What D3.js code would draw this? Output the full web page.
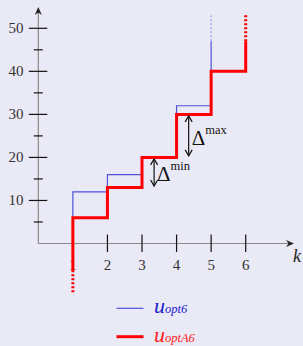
<!DOCTYPE html>
<html>
<head>
<meta charset="utf-8">
<script src="https://cdn.jsdelivr.net/npm/d3@7.9.0/dist/d3.min.js"></script>
<style>
  body { margin: 0; background: #eaeaf6; }
  svg { display: block; }
  text { font-family: "Liberation Serif", "Times New Roman", serif; }
</style>
</head>
<body>
<svg width="303" height="346"></svg>
<script>
// step values on [k, k+1)
const kSteps = [1, 2, 3, 4, 5];
const uOpt6 = [12, 16, 20, 32];       // blue, leaves to infinity at k = 5
const uOptA6 = [6, 13, 20, 30, 40];   // red, leaves to infinity at k = 6
const xTicks = [1, 2, 3, 4, 5, 6];
const yMajor = [10, 20, 30, 40, 50];
const yMinor = [5, 15, 25, 35, 45];
const lowEnd = [-6.2, -11.5];   // solid end, dotted end below axis
const highEnd = [47, 53.5];     // solid end, dotted end at top
const dMin = [13, 20, 3.35];    // from, to, at k
const dMax = [20, 30, 4.35];

const svg = d3.select('svg');
const x = d3.scaleLinear().domain([0, 6]).range([38.3, 245.7]);
const y = d3.scaleLinear().domain([0, 50]).range([243.5, 28.3]);

// axes
svg.append('line').attr('x1', x(0)).attr('x2', 292).attr('y1', y(0)).attr('y2', y(0))
  .attr('stroke', '#8a8a8a').attr('stroke-width', 1.2);
svg.append('line').attr('x1', x(0)).attr('x2', x(0)).attr('y1', y(0)).attr('y2', 9)
  .attr('stroke', '#8a8a8a').attr('stroke-width', 1.2);
const head = 'M0,0 L-3.5,8 L0,5.5 L3.5,8 Z';
svg.append('path').attr('d', head).attr('transform', `translate(${x(0)},7)`).attr('fill', '#222');
svg.append('path').attr('d', head).attr('transform', `translate(294,${y(0)}) rotate(90)`).attr('fill', '#222');

// y ticks
svg.selectAll('.ymaj').data(yMajor).join('line')
  .attr('x1', x(0) - 9.5).attr('x2', x(0) + 9).attr('y1', d => y(d)).attr('y2', d => y(d))
  .attr('stroke', '#111').attr('stroke-width', 1.2);
svg.selectAll('.ymin').data(yMinor).join('line')
  .attr('x1', x(0) - 4.5).attr('x2', x(0) + 4.5).attr('y1', d => y(d)).attr('y2', d => y(d))
  .attr('stroke', '#111').attr('stroke-width', 1.2);
svg.selectAll('.ylab').data(yMajor).join('text')
  .attr('x', 23.5).attr('y', d => y(d) + 5).attr('text-anchor', 'end')
  .attr('font-size', 15).attr('fill', '#333').text(d => d);

// x ticks
svg.selectAll('.xt').data(xTicks).join('line')
  .attr('x1', d => x(d)).attr('x2', d => x(d)).attr('y1', y(0) - 9).attr('y2', y(0) + 8.5)
  .attr('stroke', '#111').attr('stroke-width', 1.2);
svg.selectAll('.xlab').data(xTicks).join('text')
  .attr('x', d => x(d)).attr('y', 269.5).attr('text-anchor', 'middle')
  .attr('font-size', 15).attr('fill', '#333').text(d => d);
svg.append('text').attr('x', 293).attr('y', 262).attr('font-size', 18)
  .attr('font-style', 'italic').attr('fill', '#222').text('k');

// step paths
function stepPoints(vals) {
  const pts = [[kSteps[0], lowEnd[0]]];
  vals.forEach((v, i) => {
    pts.push([kSteps[i], v]);
    pts.push([kSteps[i] + 1, v]);
  });
  pts.push([kSteps[0] + vals.length, highEnd[0]]);
  return pts;
}
const line = d3.line().x(d => x(d[0])).y(d => y(d[1]));

function drawSeries(vals, color, width, dashColor) {
  const kEnd = kSteps[0] + vals.length;
  svg.append('line').attr('x1', x(kSteps[0])).attr('x2', x(kSteps[0]))
    .attr('y1', y(lowEnd[0])).attr('y2', y(lowEnd[1]))
    .attr('stroke', dashColor).attr('stroke-width', width).attr('stroke-dasharray', '2,2');
  svg.append('line').attr('x1', x(kEnd)).attr('x2', x(kEnd))
    .attr('y1', y(highEnd[0])).attr('y2', y(highEnd[1]))
    .attr('stroke', dashColor).attr('stroke-width', width).attr('stroke-dasharray', '2,2');
  svg.append('path').attr('d', line(stepPoints(vals)))
    .attr('fill', 'none').attr('stroke', color).attr('stroke-width', width)
    .attr('stroke-linejoin', 'miter');
}
drawSeries(uOpt6, '#5050dc', 1.2, '#9a9aee');
drawSeries(uOptA6, '#ff0000', 3, '#ff0000');

// delta arrows
function deltaArrow(d, sup) {
  const ax = x(d[2]);
  const y1 = y(d[1]) + 1.5, y2 = y(d[0]) - 1.5;
  svg.append('line').attr('x1', ax).attr('x2', ax).attr('y1', y1).attr('y2', y2)
    .attr('stroke', '#111').attr('stroke-width', 1.2);
  svg.append('path').attr('d', `M${ax - 3.5},${y1 + 6} L${ax},${y1} L${ax + 3.5},${y1 + 6}`)
    .attr('fill', 'none').attr('stroke', '#111').attr('stroke-width', 1.2);
  svg.append('path').attr('d', `M${ax - 3.5},${y2 - 6} L${ax},${y2} L${ax + 3.5},${y2 - 6}`)
    .attr('fill', 'none').attr('stroke', '#111').attr('stroke-width', 1.2);
  const ty = (y1 + y2) / 2 + 9;
  const t = svg.append('text').attr('x', ax + 3).attr('y', ty).attr('fill', '#111');
  t.append('tspan').attr('font-size', 21).text('Δ');
  t.append('tspan').attr('font-size', 12.5).attr('dy', -11).text(sup);
}
deltaArrow(dMin, 'min');
deltaArrow(dMax, 'max');

// legend
const legend = [
  { sub: 'opt6', color: '#5050dc', text: '#2020cc', width: 1.2, y: 308.3 },
  { sub: 'optA6', color: '#ff0000', text: '#ff1a1a', width: 3, y: 336.7 }
];
legend.forEach(d => {
  svg.append('line').attr('x1', 116.5).attr('x2', 143.5).attr('y1', d.y).attr('y2', d.y)
    .attr('stroke', d.color).attr('stroke-width', d.width);
  const t = svg.append('text').attr('x', 154).attr('y', d.y + 5)
    .attr('fill', d.text).attr('font-style', 'italic');
  t.append('tspan').attr('font-size', 22).text('u');
  t.append('tspan').attr('font-size', 12.5).text(d.sub);
});
</script>
</body>
</html>
